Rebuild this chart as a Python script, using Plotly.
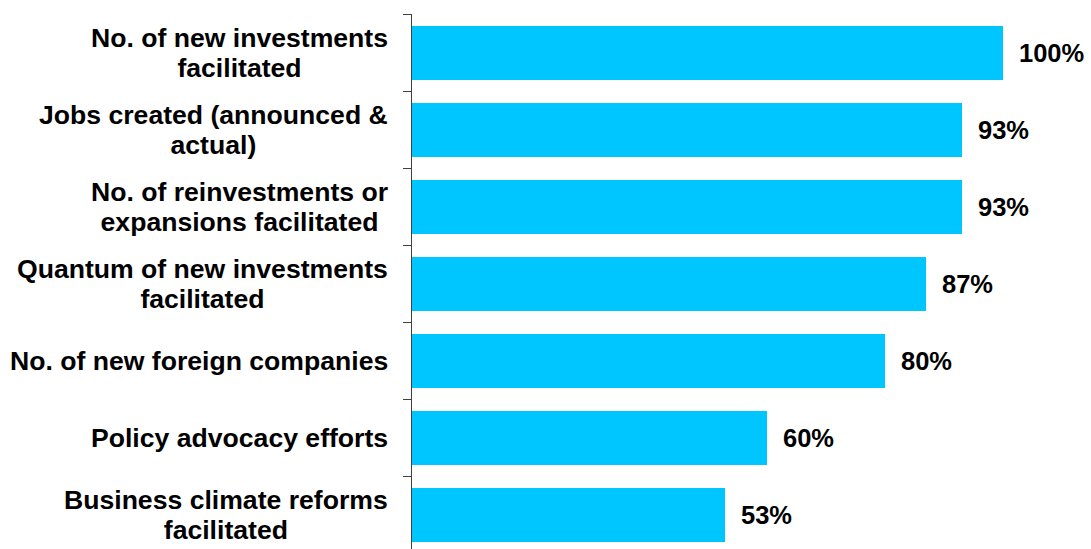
import plotly.graph_objects as go

# Share of respondents tracking each indicator (%)
categories = [
    "No. of new investments<br>facilitated",
    "Jobs created (announced &<br>actual)",
    "No. of reinvestments or<br>expansions facilitated",
    "Quantum of new investments<br>facilitated",
    "No. of new foreign companies",
    "Policy advocacy efforts",
    "Business climate reforms<br>facilitated",
]
values = [100, 93, 93, 87, 80, 60, 53]
value_labels = [f"{v}%" for v in values]

BAR_COLOR = "#00C6FF"
FONT = "Arial, Liberation Sans, sans-serif"

positions = list(range(len(categories)))

fig = go.Figure()
fig.add_trace(go.Bar(
    x=values,
    y=positions,
    orientation="h",
    width=0.70,
    marker=dict(color=BAR_COLOR, line=dict(width=0)),
    hoverinfo="skip",
))

annotations = []
# Category labels, centred multi-line blocks to the left of the axis
for pos, cat in zip(positions, categories):
    annotations.append(dict(
        x=0, xref="paper", y=pos, yref="y",
        text=f'<span style="font-size:26.6px">{cat}</span>',
        showarrow=False, xanchor="right", yanchor="middle",
        align="center", xshift=-22,
        font=dict(family=FONT, size=23, color="#000000", weight="bold"),
    ))
# Value labels beyond the end of each bar
for pos, v, lab in zip(positions, values, value_labels):
    annotations.append(dict(
        x=v, xref="x", y=pos, yref="y",
        text=lab, showarrow=False, xanchor="left", yanchor="middle",
        xshift=14,
        font=dict(family=FONT, size=25.5, color="#000000", weight="bold"),
    ))

plot_left = 412
plot_top = 14
fig_w, fig_h = 1091, 549
px_per_cat = 76.95
first_center = 53
y_top = (plot_top - first_center) / px_per_cat
y_bottom = (fig_h - first_center) / px_per_cat
x_max = 100 * (fig_w - plot_left) / 591

fig.update_layout(
    width=fig_w, height=fig_h,
    margin=dict(l=plot_left, r=0, t=plot_top, b=0),
    paper_bgcolor="white", plot_bgcolor="white",
    showlegend=False,
    annotations=annotations,
    bargap=0,
)
fig.update_xaxes(
    range=[0, x_max], visible=False, fixedrange=True,
)
fig.update_yaxes(
    range=[y_bottom, y_top],
    tickmode="array",
    tickvals=[p - 0.5 for p in positions] + [len(positions) - 0.5],
    showticklabels=False,
    ticks="outside", ticklen=8, tickwidth=1, tickcolor="#404040",
    showline=True, linecolor="#404040", linewidth=1,
    showgrid=False, zeroline=False, fixedrange=True,
)

fig.write_html("out.html")
